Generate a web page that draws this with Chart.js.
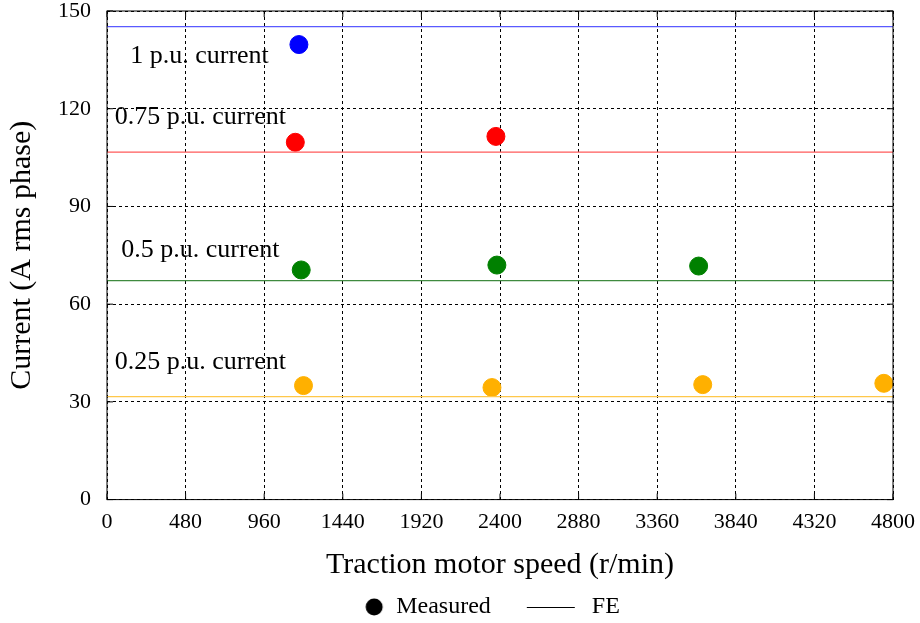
<!DOCTYPE html>
<html>
<head>
<meta charset="UTF-8">
<title>Current vs speed</title>
<script src="https://cdn.jsdelivr.net/npm/chart.js"></script>
<style>
  body { margin: 0; background: #fff; }
  #wrap { width: 920px; height: 623px; }
</style>
</head>
<body>
<div id="wrap"><canvas id="chart"></canvas></div>
<script>
// FE level lines (A rms phase)
const feLevels = [145.2, 106.7, 67.2, 31.6];
const feColors = ['#5a5aff', '#ff5a5a', '#3f8a3f', '#ffc84a'];

// measured points
const speed1pu = [1172];
const cur1pu = [139.7];
const speed075 = [1150, 2375];
const cur075 = [109.7, 111.5];
const speed05 = [1186, 2381, 3613];
const cur05 = [70.5, 72.0, 71.7];
const speed025 = [1200, 2351, 3638, 4744];
const cur025 = [35.0, 34.4, 35.3, 35.7];
const measColors = ['#0000ff', '#ff0000', '#008000', '#ffb000'];

const labelText = ['1 p.u. current', '0.75 p.u. current', '0.5 p.u. current', '0.25 p.u. current'];
const labelX = [565, 570, 570, 570];
const labelY = [136, 117.3, 76.6, 42.3];

const xTicks = [0, 480, 960, 1440, 1920, 2400, 2880, 3360, 3840, 4320, 4800];

const FONT = "'Liberation Serif', serif";

function pts(xs, ys) { return xs.map((x, i) => ({ x: x, y: ys[i] })); }

// legend symbols (drawn as small images so the spacing matches)
const BOXW = 84;
function symbol(kind) {
    const cv = document.createElement('canvas');
    cv.width = BOXW; cv.height = 18;
    const g = cv.getContext('2d');
    g.fillStyle = '#000'; g.strokeStyle = '#000'; g.lineWidth = 1;
    if (kind === 'dot') {
        g.beginPath(); g.arc(BOXW - 10, 9, 8.5, 0, Math.PI * 2); g.fill();
    } else {
        g.beginPath(); g.moveTo(31, 9.5); g.lineTo(79, 9.5); g.stroke();
    }
    return cv;
}

const datasets = [];
feLevels.forEach((v, i) => {
    datasets.push({
        type: 'line', label: 'FE', data: [{ x: 0, y: v }, { x: 4800, y: v }],
        borderColor: feColors[i], borderWidth: 1.2, pointRadius: 0, fill: false
    });
});
[[speed1pu, cur1pu], [speed075, cur075], [speed05, cur05], [speed025, cur025]].forEach((s, i) => {
    datasets.push({
        type: 'scatter', label: 'Measured', data: pts(s[0], s[1]),
        backgroundColor: measColors[i], borderColor: measColors[i], pointRadius: 9, pointHoverRadius: 9
    });
});

// frame, inward ticks and text labels
const extras = {
    id: 'extras',
    afterDatasetsDraw(chart) {
        const c = chart.ctx, a = chart.chartArea, xs = chart.scales.x, ys = chart.scales.y;
        c.save();
        c.strokeStyle = '#000';
        c.lineWidth = 1;
        c.strokeRect(a.left, a.top, a.right - a.left, a.bottom - a.top);
        c.beginPath();
        ys.ticks.forEach(t => {
            const y = ys.getPixelForValue(t.value);
            c.moveTo(a.left, y); c.lineTo(a.left + 6, y);
            c.moveTo(a.right, y); c.lineTo(a.right - 6, y);
        });
        xs.ticks.forEach(t => {
            const x = xs.getPixelForValue(t.value);
            c.moveTo(x, a.bottom); c.lineTo(x, a.bottom - 6);
            c.moveTo(x, a.top); c.lineTo(x, a.top + 6);
        });
        c.stroke();
        c.fillStyle = '#000';
        c.font = '26px ' + FONT;
        c.textAlign = 'center';
        c.textBaseline = 'middle';
        labelText.forEach((t, i) => {
            c.fillText(t, xs.getPixelForValue(labelX[i]), ys.getPixelForValue(labelY[i]));
        });
        c.restore();
    }
};

new Chart(document.getElementById('chart'), {
    type: 'scatter',
    data: { datasets: datasets },
    plugins: [extras],
    options: {
        responsive: true,
        maintainAspectRatio: false,
        animation: false,
        layout: { autoPadding: false, padding: { top: 0, left: 0, right: 0, bottom: -6 } },
        scales: {
            x: {
                type: 'linear', min: 0, max: 4800,
                afterBuildTicks: s => { s.ticks = xTicks.map(v => ({ value: v })); },
                afterFit: s => { s.paddingRight = 27; },
                grid: { color: '#000', drawTicks: false },
                border: { display: false, dash: [3, 3] },
                ticks: { color: '#000', font: { family: FONT, size: 22 }, padding: 9, maxRotation: 0, callback: v => String(v) },
                title: { display: true, text: 'Traction motor speed (r/min)', color: '#000', font: { family: FONT, size: 30 }, padding: { top: 3, bottom: 7 } }
            },
            y: {
                type: 'linear', min: 0, max: 150,
                afterFit: s => { s.paddingTop = 11; },
                ticks: { stepSize: 30, color: '#000', font: { family: FONT, size: 22 }, padding: 16, callback: v => String(v) },
                grid: { color: '#000', drawTicks: false },
                border: { display: false, dash: [3, 3] },
                title: { display: true, text: 'Current (A rms phase)', color: '#000', font: { family: FONT, size: 30 }, padding: { top: 4, bottom: 2 } }
            }
        },
        plugins: {
            tooltip: { enabled: false },
            legend: {
                position: 'bottom',
                labels: {
                    color: '#000',
                    font: { family: FONT, size: 24 },
                    usePointStyle: true,
                    pointStyleWidth: BOXW,
                    boxHeight: 18,
                    padding: 5,
                    generateLabels: () => [
                        { text: 'Measured', pointStyle: symbol('dot'), fillStyle: '#000', strokeStyle: '#000', lineWidth: 0, fontColor: '#000' },
                        { text: 'FE', pointStyle: symbol('line'), fillStyle: '#000', strokeStyle: '#000', lineWidth: 0, fontColor: '#000' }
                    ]
                }
            }
        }
    }
});
</script>
</body>
</html>
